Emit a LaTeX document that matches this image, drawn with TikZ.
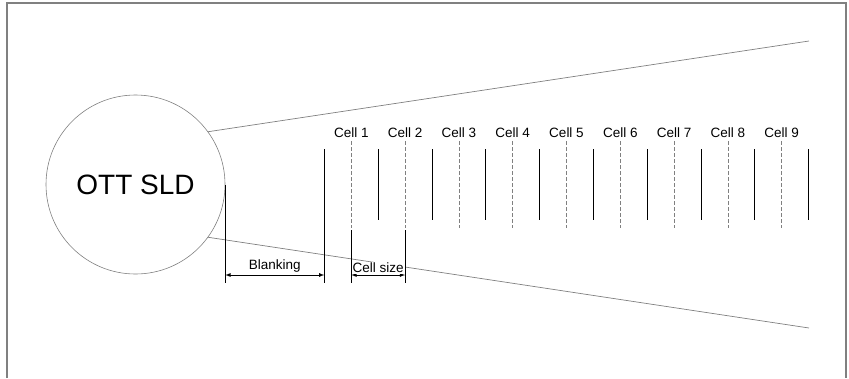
\documentclass[tikz,border=0pt]{standalone}
\usepackage{fontspec}
\setmainfont{Liberation Sans}
\usepackage{xcolor}
\usetikzlibrary{arrows}

\begin{document}
\begin{tikzpicture}[x=1pt,y=-1pt,
    beam/.style={color=gray, line width=0.7pt},
    solidline/.style={color=black, line width=0.8pt},
    gapline/.style={color=gray, dash pattern=on 4pt off 2pt, line width=0.7pt},
    dim/.style={<->, >=latex, line width=0.8pt},
    lbl/.style={font=\fontsize{13.5}{15}\selectfont, inner sep=1pt}]
          \useasboundingbox (0,0) rectangle (849,378);
          \draw[color=gray, line width=1.3pt] (7,378) -- (7,3) -- (846,3) -- (846,378);

          \node[circle, draw=gray, line width=0.6pt, minimum size=179pt, inner sep=0pt, font=\fontsize{28}{32}\selectfont] (sld) at (135.5,184.5) {OTT SLD};
          \coordinate (beamtop) at (809,41);
          \coordinate (beambot) at (809,328);
          \draw[beam] (sld.36) -- (beamtop);
          \draw[beam] (sld.-36) -- (beambot);

          % cells and their boundaries
          \foreach \i [evaluate=\i as \xc using 351.3+(\i-1)*53.8] in {1,...,9} {
            \node[lbl, anchor=base] (cell\i) at (\xc,137) {Cell \i};
            \draw[gapline] ([yshift=-3pt]cell\i.south) -- ++(0,87);
          }
          \foreach \i [evaluate=\i as \xs using 324.3+\i*53.8] in {1,...,9} {
            \draw[solidline] (\xs,149) -- (\xs,220);
          }

          \coordinate (blankL) at (225.3,275);
          \coordinate (blankR) at (324.3,275);
          \coordinate (sizeL) at (351.3,275);
          \coordinate (sizeR) at (405.1,275);
          \draw[dim] (blankL) -- (blankR) node[midway, above=1pt, lbl] {Blanking};
          \draw[dim] (sizeL) -- (sizeR) node[midway, above=1pt, lbl, fill=white] {Cell size};

          \draw[solidline] (blankL) ++(0,-90) -- ++(0,98);
          \draw[solidline] (blankR) ++(0,-126) -- ++(0,134);
          \draw[solidline] (sizeL) ++(0,-45) -- ++(0,53);
          \draw[solidline] (sizeR) ++(0,-45) -- ++(0,53);
        \end{tikzpicture}
\end{document}
